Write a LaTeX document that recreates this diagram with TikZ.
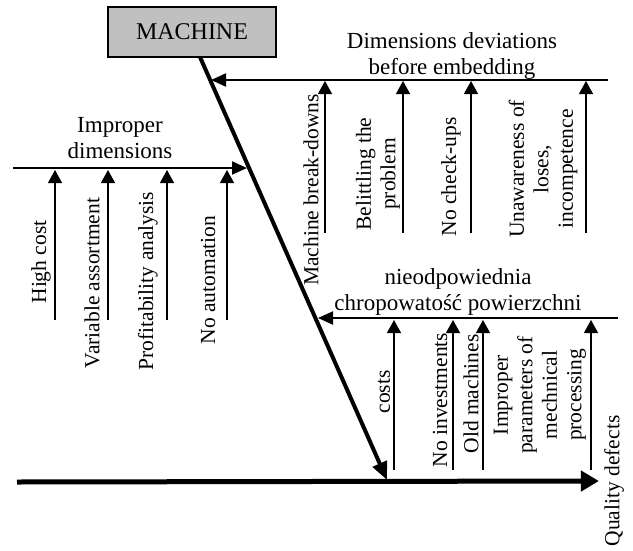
\documentclass[tikz,border=0pt]{standalone}
\usepackage{fontspec}
\setmainfont{Liberation Serif}
\usetikzlibrary{arrows.meta}
\definecolor{boxgray}{RGB}{192,192,192}
\begin{document}
\begin{tikzpicture}[x=1pt,y=-1pt,
  title/.style={font=\fontsize{23}{26}\selectfont, align=center, inner sep=0pt},
  cause/.style={font=\fontsize{21.5}{24.5}\selectfont, align=center, rotate=90, inner sep=0pt},
  spine/.style={line width=5pt, -{Triangle[length=18pt,width=20pt]}},
  bone/.style={line width=4pt, -{Triangle[length=18pt,width=15pt]}},
  branch/.style={line width=2pt, -{Triangle[length=15pt,width=13pt]}},
  twig/.style={line width=1.3pt, -{Triangle[length=13pt,width=14pt]}}]
\useasboundingbox (0,0) rectangle (633,550);

% head of the main bone
\node[draw, line width=2pt, fill=boxgray, minimum width=168pt, minimum height=50pt,
      inner sep=0pt, font=\fontsize{24}{27}\selectfont] (machine) at (192,32) {MACHINE};

% main bone and spine
\coordinate (boneTop) at (200,57);
\coordinate (boneEnd) at (387,480);
\draw[bone] (boneTop) -- (boneEnd);

\coordinate (spineStart) at (17,482);
\node[cause] (effect) at (614,481) {Quality defects};
\draw[spine] (spineStart) -- ([xshift=-5pt]effect.north);

% branch: dimensions deviations before embedding
\node[title] (tTop) at (452,56) {Dimensions deviations\\before embedding};
\coordinate (topStart) at (608,80);
\coordinate (topJoin) at (211,80);
\draw[branch] (topStart) -- (topJoin);

\coordinate (t1a) at (325,233); \coordinate (t1b) at (325,81);
\coordinate (t2a) at (403,233); \coordinate (t2b) at (403,81);
\coordinate (t3a) at (471,233); \coordinate (t3b) at (471,81);
\coordinate (t4a) at (586,233); \coordinate (t4b) at (586,81);
\foreach \i in {1,...,4} \draw[twig] (t\i a) -- (t\i b);

\node[cause] (mb)  at (311,190) {Machine break-downs};
\node[cause] (bel) at (378,174) {Belittling the\\problem};
\node[cause] (nc)  at (451,177) {No check-ups};
\node[cause] (un)  at (543,169) {Unawareness of\\loses,\\incompetence};

% branch: improper dimensions
\node[title] (tLeft) at (120,138) {Improper\\dimensions};
\coordinate (leftStart) at (13,168);
\coordinate (leftJoin) at (247,168);
\draw[branch] (leftStart) -- (leftJoin);

\coordinate (l1a) at (55,320);  \coordinate (l1b) at (55,170);
\coordinate (l2a) at (108,320); \coordinate (l2b) at (108,170);
\coordinate (l3a) at (167,320); \coordinate (l3b) at (167,170);
\coordinate (l4a) at (227,320); \coordinate (l4b) at (227,170);
\foreach \i in {1,...,4} \draw[twig] (l\i a) -- (l\i b);

\node[cause] (hc) at (41,262)  {High cost};
\node[cause] (va) at (92,283)  {Variable assortment};
\node[cause] (pa) at (148,281) {Profitability analysis};
\node[cause] (na) at (208,280) {No automation};

% branch: surface roughness
\node[title] (tBot) at (458,292) {nieodpowiednia\\chropowatość powierzchni};
\coordinate (botStart) at (618,318);
\coordinate (botJoin) at (318,318);
\draw[branch] (botStart) -- (botJoin);

\coordinate (b1a) at (394,470); \coordinate (b1b) at (394,320);
\coordinate (b2a) at (453,470); \coordinate (b2b) at (453,320);
\coordinate (b3a) at (483,470); \coordinate (b3b) at (483,320);
\coordinate (b4a) at (591,470); \coordinate (b4b) at (591,320);
\foreach \i in {1,...,4} \draw[twig] (b\i a) -- (b\i b);

\node[cause] (co) at (384,392) {costs};
\node[cause] (ni) at (440,400) {No investments};
\node[cause] (om) at (471,394) {Old machines};
\node[cause] (ip) at (540,395) {Improper\\parameters of\\mechnical\\processing};
\end{tikzpicture}
\end{document}
